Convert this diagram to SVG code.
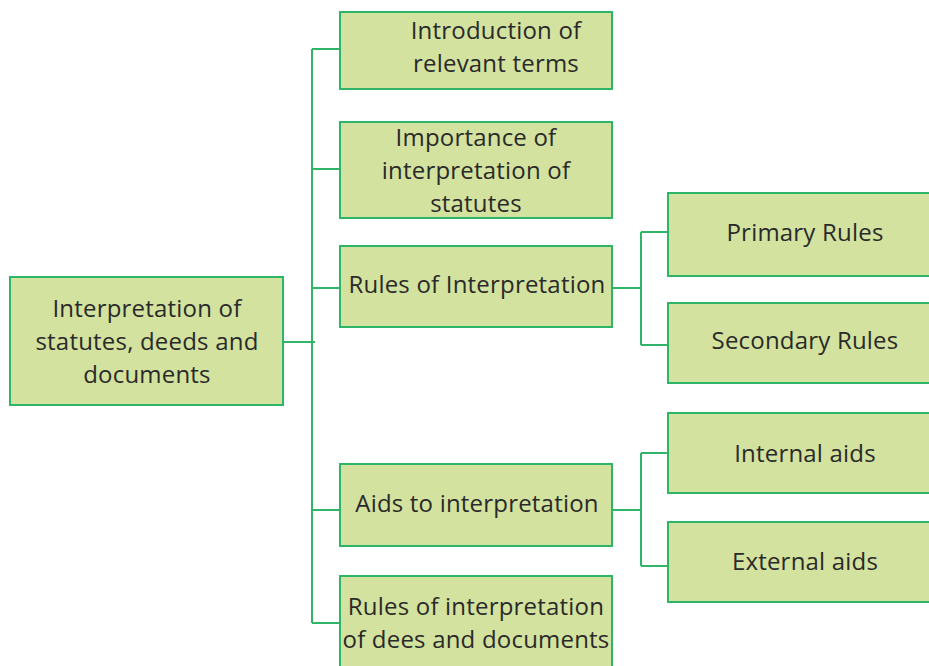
<svg xmlns="http://www.w3.org/2000/svg" width="929" height="666" viewBox="0 0 929 666">
<style>
.box{fill:#d3e29f;stroke:#2fb567;stroke-width:2}
.lbl{font-family:"Open Sans","Noto Sans","Liberation Sans",sans-serif;font-size:24px;letter-spacing:0.2px;fill:#2a2a2a;text-anchor:middle}
.con{fill:none;stroke:#2fb567;stroke-width:2}
</style>
<rect width="929" height="666" fill="#ffffff"/>
<g id="connectors">
<path class="con" d="M283 342H315M312 49V623M312 49H340M312 169H340M312 288H340M312 510H340M312 623H340"/>
<path class="con" d="M612 288H641M641 232V345M641 232H668M641 345H668"/>
<path class="con" d="M612 510H641M641 453V566M641 453H668M641 566H668"/>
</g>
<g id="root">
<rect class="box" x="10" y="277" width="273" height="128"/>
<text class="lbl" x="147" y="317">Interpretation of</text>
<text class="lbl" x="147" y="350">statutes, deeds and</text>
<text class="lbl" x="147" y="383">documents</text>
</g>
<g id="intro">
<rect class="box" x="340" y="12" width="272" height="77"/>
<text class="lbl" x="496" y="39">Introduction of</text>
<text class="lbl" x="496" y="72">relevant terms</text>
</g>
<g id="importance">
<rect class="box" x="340" y="122" width="272" height="96"/>
<text class="lbl" x="476" y="146">Importance of</text>
<text class="lbl" x="476" y="179">interpretation of</text>
<text class="lbl" x="476" y="212">statutes</text>
</g>
<g id="rules">
<rect class="box" x="340" y="246" width="272" height="81"/>
<text class="lbl" x="477" y="293">Rules of Interpretation</text>
</g>
<g id="aids">
<rect class="box" x="340" y="464" width="272" height="82"/>
<text class="lbl" x="477" y="512">Aids to interpretation</text>
</g>
<g id="deeds">
<rect class="box" x="340" y="576" width="272" height="100"/>
<text class="lbl" x="476" y="615">Rules of interpretation</text>
<text class="lbl" x="476" y="648">of dees and documents</text>
</g>
<g id="primary">
<rect class="box" x="668" y="193" width="272" height="83"/>
<text class="lbl" x="805" y="241">Primary Rules</text>
</g>
<g id="secondary">
<rect class="box" x="668" y="303" width="272" height="80"/>
<text class="lbl" x="805" y="349">Secondary Rules</text>
</g>
<g id="internal">
<rect class="box" x="668" y="413" width="272" height="80"/>
<text class="lbl" x="805" y="462">Internal aids</text>
</g>
<g id="external">
<rect class="box" x="668" y="522" width="272" height="80"/>
<text class="lbl" x="805" y="570">External aids</text>
</g>
</svg>
